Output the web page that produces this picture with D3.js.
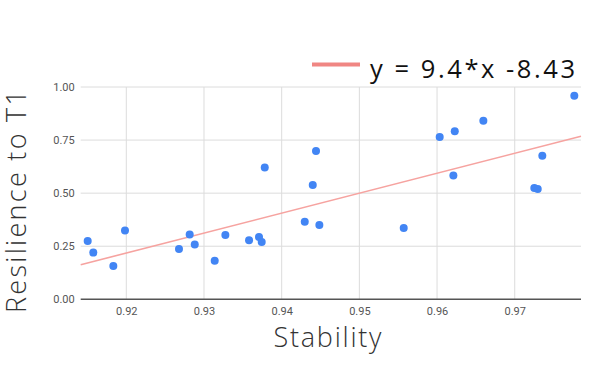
<!DOCTYPE html>
<html><head><meta charset="utf-8">
<script src="https://cdn.jsdelivr.net/npm/d3@7"></script>
<style>body{margin:0;background:#fff}svg{display:block}</style>
</head><body>
<svg id="c" width="600" height="371"></svg>
<script>
const stability = [0.91503,0.91575,0.91833,0.91983,0.92678,0.92816,0.92881,0.93138,0.93275,0.93580,0.93708,0.93743,0.93782,0.94297,0.94400,0.94442,0.94485,0.95571,0.96034,0.96228,0.96210,0.96596,0.97252,0.97296,0.97355,0.97767];
const resilience = [0.275,0.220,0.157,0.324,0.237,0.305,0.258,0.182,0.303,0.278,0.294,0.270,0.621,0.365,0.538,0.698,0.350,0.336,0.764,0.792,0.583,0.841,0.524,0.520,0.676,0.959];
const xTicks = [0.92,0.93,0.94,0.95,0.96,0.97];
const yTicks = [0,0.25,0.5,0.75,1];
const trendSlope = 9.4, trendIntercept = -8.43;
const legendLabel = "y = 9.4*x -8.43";
const xTitle = "Stability", yTitle = "Resilience to T1";

const svg = d3.select("#c");
const L=80.7, R=581, T=87, B=299.3;
const x = d3.scaleLinear().domain([0.91413,0.97853]).range([L,R]);
const y = d3.scaleLinear().domain([0,1]).range([B,T]);

// grid
svg.append("g").selectAll("line").data(yTicks.filter(d=>d>0)).join("line")
  .attr("x1",L).attr("x2",R).attr("y1",d=>y(d)).attr("y2",d=>y(d))
  .attr("stroke","#dcdcdc").attr("stroke-width",1);
svg.append("g").selectAll("line").data(xTicks).join("line")
  .attr("x1",d=>x(d)).attr("x2",d=>x(d)).attr("y1",T).attr("y2",B)
  .attr("stroke","#dcdcdc").attr("stroke-width",1);

// axes
const yAxis = svg.append("g").attr("transform",`translate(${L},0)`)
  .call(d3.axisLeft(y).tickValues(yTicks).tickFormat(d3.format(".2f")).tickSize(0).tickPadding(6));
const xAxis = svg.append("g").attr("transform",`translate(0,${B})`)
  .call(d3.axisBottom(x).tickValues(xTicks).tickFormat(d3.format(".2f")).tickSize(0).tickPadding(8));
[yAxis,xAxis].forEach(a=>{a.select(".domain").remove();
  a.selectAll("text").attr("font-family","Roboto, sans-serif").attr("font-size",11).attr("fill","#555");});
svg.append("line").attr("x1",L).attr("x2",R).attr("y1",B).attr("y2",B).attr("stroke","#555").attr("stroke-width",1.5);

// trend line
const dom = x.domain();
svg.append("line").attr("x1",x(dom[0])).attr("x2",x(dom[1]))
  .attr("y1",y(trendSlope*dom[0]+trendIntercept)).attr("y2",y(trendSlope*dom[1]+trendIntercept))
  .attr("stroke","#f6a3a0").attr("stroke-width",1.6);

// points
svg.append("g").selectAll("circle").data(stability.map((s,i)=>[s,resilience[i]])).join("circle")
  .attr("cx",d=>x(d[0])).attr("cy",d=>y(d[1])).attr("r",4).attr("fill","#4285f4");

// legend
svg.append("line").attr("x1",312).attr("x2",360).attr("y1",64.5).attr("y2",64.5)
  .attr("stroke","#f08683").attr("stroke-width",4);
svg.append("text").attr("x",370).attr("y",78).attr("font-family","'Open Sans', sans-serif")
  .attr("font-size",25.5).attr("fill","#111").attr("textLength",205).attr("lengthAdjust","spacing").text(legendLabel);

// titles
svg.append("text").attr("x",273.5).attr("y",347)
  .attr("font-family","'Open Sans', sans-serif").attr("font-size",27).attr("font-weight",300).attr("fill","#333")
  .attr("textLength",108).attr("lengthAdjust","spacing").text(xTitle);
svg.append("text").attr("transform","translate(26,313) rotate(-90)")
  .attr("font-family","'Open Sans', sans-serif").attr("font-size",27).attr("font-weight",300).attr("fill","#333")
  .attr("textLength",223).attr("lengthAdjust","spacing").text(yTitle);
</script>
</body></html>
